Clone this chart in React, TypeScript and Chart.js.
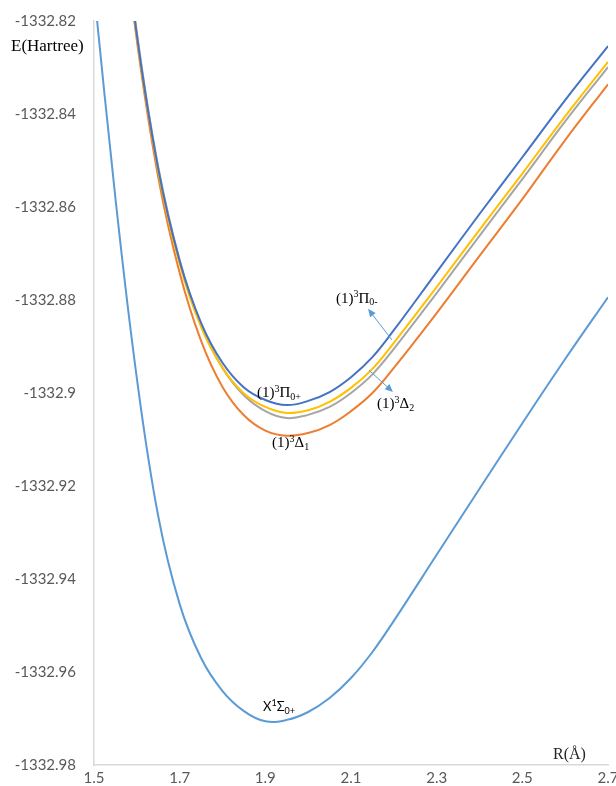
import React, { useEffect, useRef } from "react";
import { Chart, registerables } from "chart.js";

Chart.register(...registerables);

// Bond length R (Å)
const R_X = [1.5, 1.55, 1.6, 1.65, 1.7, 1.75, 1.8, 1.85, 1.9, 1.95, 2.0, 2.05, 2.1, 2.15, 2.2, 2.3, 2.4, 2.5, 2.6, 2.7];
const R_UPPER = [1.55, 1.6, 1.65, 1.7, 1.75, 1.8, 1.85, 1.9, 1.95, 2.0, 2.05, 2.1, 2.15, 2.2, 2.3, 2.4, 2.5, 2.6, 2.7];

// Energies (Hartree)
const E_X1SIGMA = [
  -1332.8133, -1332.8581, -1332.8968, -1332.9265, -1332.9454, -1332.957, -1332.9641, -1332.9684, -1332.9706, -1332.9703,
  -1332.9686, -1332.9656, -1332.9613, -1332.9557, -1332.949, -1332.9348, -1332.9206, -1332.9065, -1332.8927, -1332.8794,
];
const E_PI0PLUS = [
  -1332.7843, -1332.823, -1332.8518, -1332.8716, -1332.8849, -1332.8935, -1332.8988, -1332.9015, -1332.9026, -1332.9017,
  -1332.8998, -1332.8966, -1332.8923, -1332.8865, -1332.874, -1332.8615, -1332.8493, -1332.837, -1332.8254,
];
const E_PI0MINUS = [
  -1332.7847, -1332.8234, -1332.8523, -1332.8723, -1332.8858, -1332.8946, -1332.9001, -1332.903, -1332.9043, -1332.9037,
  -1332.9019, -1332.8989, -1332.8948, -1332.8892, -1332.8772, -1332.8649, -1332.8528, -1332.8405, -1332.8288,
];
const E_DELTA2 = [
  -1332.7837, -1332.8224, -1332.8514, -1332.8714, -1332.8854, -1332.8946, -1332.9005, -1332.9039, -1332.9054, -1332.9047,
  -1332.903, -1332.9, -1332.896, -1332.8905, -1332.8785, -1332.8662, -1332.854, -1332.8416, -1332.8299,
];
const E_DELTA1 = [
  -1332.7852, -1332.8241, -1332.8536, -1332.8742, -1332.8888, -1332.8987, -1332.9048, -1332.9081, -1332.9092, -1332.9086,
  -1332.9069, -1332.9039, -1332.9, -1332.8946, -1332.8828, -1332.8705, -1332.8583, -1332.8456, -1332.8336,
];

// Axis ranges / ticks
const X_MIN = 1.5;
const X_MAX = 2.7;
const X_STEP = 0.2;
const Y_MIN = -1332.98;
const Y_MAX = -1332.82;
const Y_STEP = 0.02;

// Curve labels (anchored in data coordinates: left edge, vertical middle)
type Part = [string, "n" | "sup" | "sub"];
const CURVE_LABELS: { parts: Part[]; r: number; e: number; serif: boolean }[] = [
  { parts: [["(1)", "n"], ["3", "sup"], ["Π", "n"], ["0-", "sub"]], r: 2.065, e: -1332.8797, serif: true },
  { parts: [["(1)", "n"], ["3", "sup"], ["Δ", "n"], ["2", "sub"]], r: 2.1607, e: -1332.9024, serif: true },
  { parts: [["(1)", "n"], ["3", "sup"], ["Π", "n"], ["0+", "sub"]], r: 1.8805, e: -1332.9, serif: true },
  { parts: [["(1)", "n"], ["3", "sup"], ["Δ", "n"], ["1", "sub"]], r: 1.9156, e: -1332.9108, serif: true },
  { parts: [["X", "n"], ["1", "sup"], ["Σ", "n"], ["0+", "sub"]], r: 1.8945, e: -1332.9675, serif: false },
];

// Pointer arrows: [R, E] from curve to label
const ARROWS: { from: [number, number]; to: [number, number] }[] = [
  { from: [2.1957, -1332.8886], to: [2.1397, -1332.8819] },
  { from: [2.142, -1332.8951], to: [2.198, -1332.8998] },
];

const toPoints = (xs: number[], ys: number[]) => xs.map((x, i) => ({ x, y: ys[i] }));

const annotate = {
  id: "annotate",
  afterDatasetsDraw(chart: any) {
    const { ctx } = chart;
    const xs = chart.scales.x;
    const ys = chart.scales.y;
    ctx.save();
    // arrows
    ctx.strokeStyle = "#5B9BD5";
    ctx.fillStyle = "#5B9BD5";
    ctx.lineWidth = 1;
    for (const a of ARROWS) {
      const x0 = xs.getPixelForValue(a.from[0]);
      const y0 = ys.getPixelForValue(a.from[1]);
      const x1 = xs.getPixelForValue(a.to[0]);
      const y1 = ys.getPixelForValue(a.to[1]);
      const ang = Math.atan2(y1 - y0, x1 - x0);
      const L = 8;
      const W = 3.5;
      ctx.beginPath();
      ctx.moveTo(x0, y0);
      ctx.lineTo(x1 - (L - 1) * Math.cos(ang), y1 - (L - 1) * Math.sin(ang));
      ctx.stroke();
      ctx.beginPath();
      ctx.moveTo(x1, y1);
      ctx.lineTo(x1 - L * Math.cos(ang) + W * Math.sin(ang), y1 - L * Math.sin(ang) - W * Math.cos(ang));
      ctx.lineTo(x1 - L * Math.cos(ang) - W * Math.sin(ang), y1 - L * Math.sin(ang) + W * Math.cos(ang));
      ctx.closePath();
      ctx.fill();
    }
    // curve labels
    ctx.fillStyle = "#000";
    ctx.textBaseline = "middle";
    ctx.textAlign = "left";
    for (const lab of CURVE_LABELS) {
      let px = xs.getPixelForValue(lab.r);
      const py = ys.getPixelForValue(lab.e);
      const fam = lab.serif ? "'Liberation Serif', 'Times New Roman', serif" : "Lato, 'Liberation Sans', sans-serif";
      const base = lab.serif ? 15 : 13;
      const small = lab.serif ? 10 : 9;
      for (const [t, kind] of lab.parts) {
        ctx.font = `${kind === "n" ? base : small}px ${fam}`;
        const dy = kind === "sup" ? -4 : kind === "sub" ? 4 : 0;
        ctx.fillText(t, px, py + dy);
        px += ctx.measureText(t).width;
      }
    }
    // axis titles
    ctx.font = "17px 'Liberation Serif', 'Times New Roman', serif";
    ctx.fillStyle = "#000";
    ctx.fillText("E(Hartree)", 11, 47);
    ctx.font = "16px 'Liberation Serif', 'Times New Roman', serif";
    ctx.fillStyle = "#262626";
    ctx.fillText("R(Å)", 553, 755);
    ctx.restore();
  },
};

export default function App() {
  const ref = useRef<HTMLCanvasElement | null>(null);

  useEffect(() => {
    document.body.style.margin = "0";
    if (!ref.current) return;
    const line = (label: string, xs: number[], ys: number[], color: string) => ({
      label,
      data: toPoints(xs, ys),
      borderColor: color,
      backgroundColor: color,
      borderWidth: 2,
      pointRadius: 0,
      tension: 0.4,
      showLine: true,
      fill: false,
    });
    const chart = new Chart(ref.current, {
      type: "scatter",
      data: {
        datasets: [
          line("(1)3Π0+", R_UPPER, E_PI0PLUS, "#4472C4"),
          line("(1)3Π0-", R_UPPER, E_PI0MINUS, "#FFC000"),
          line("(1)3Δ2", R_UPPER, E_DELTA2, "#A5A5A5"),
          line("(1)3Δ1", R_UPPER, E_DELTA1, "#ED7D31"),
          line("X1Σ0+", R_X, E_X1SIGMA, "#5B9BD5"),
        ],
      },
      options: {
        animation: false,
        responsive: false,
        maintainAspectRatio: false,
        layout: { padding: { top: 21, right: 8, left: 0, bottom: 0 } },
        plugins: { legend: { display: false }, tooltip: { enabled: false } },
        scales: {
          x: {
            type: "linear",
            min: X_MIN,
            max: X_MAX,
            grid: { display: false, drawTicks: false },
            border: { display: true, color: "#D9D9D9", width: 1.5 },
            ticks: {
              stepSize: X_STEP,
              padding: 4,
              color: "#595959",
              font: { family: "Lato, 'Liberation Sans', sans-serif", size: 15 },
              callback: (v: any) => Number(v).toFixed(1),
            },
            afterFit: (s: any) => {
              s.height = 21;
              s.paddingLeft = 0;
              s.paddingRight = 0;
            },
          },
          y: {
            type: "linear",
            min: Y_MIN,
            max: Y_MAX,
            grid: { display: false, drawTicks: false },
            border: { display: true, color: "#D9D9D9", width: 1.5 },
            ticks: {
              stepSize: Y_STEP,
              padding: 18,
              color: "#595959",
              font: { family: "Lato, 'Liberation Sans', sans-serif", size: 15 },
              callback: (v: any) => String(parseFloat(Number(v).toFixed(2))),
            },
            afterFit: (s: any) => {
              s.width = 94;
              s.paddingTop = 0;
              s.paddingBottom = 0;
            },
          },
        },
      },
      plugins: [annotate],
    });
    return () => chart.destroy();
  }, []);

  return (
    <div style={{ position: "absolute", left: 0, top: 0, width: 616, height: 786, background: "#fff" }}>
      <canvas ref={ref} width={616} height={786} style={{ display: "block" }} />
    </div>
  );
}
